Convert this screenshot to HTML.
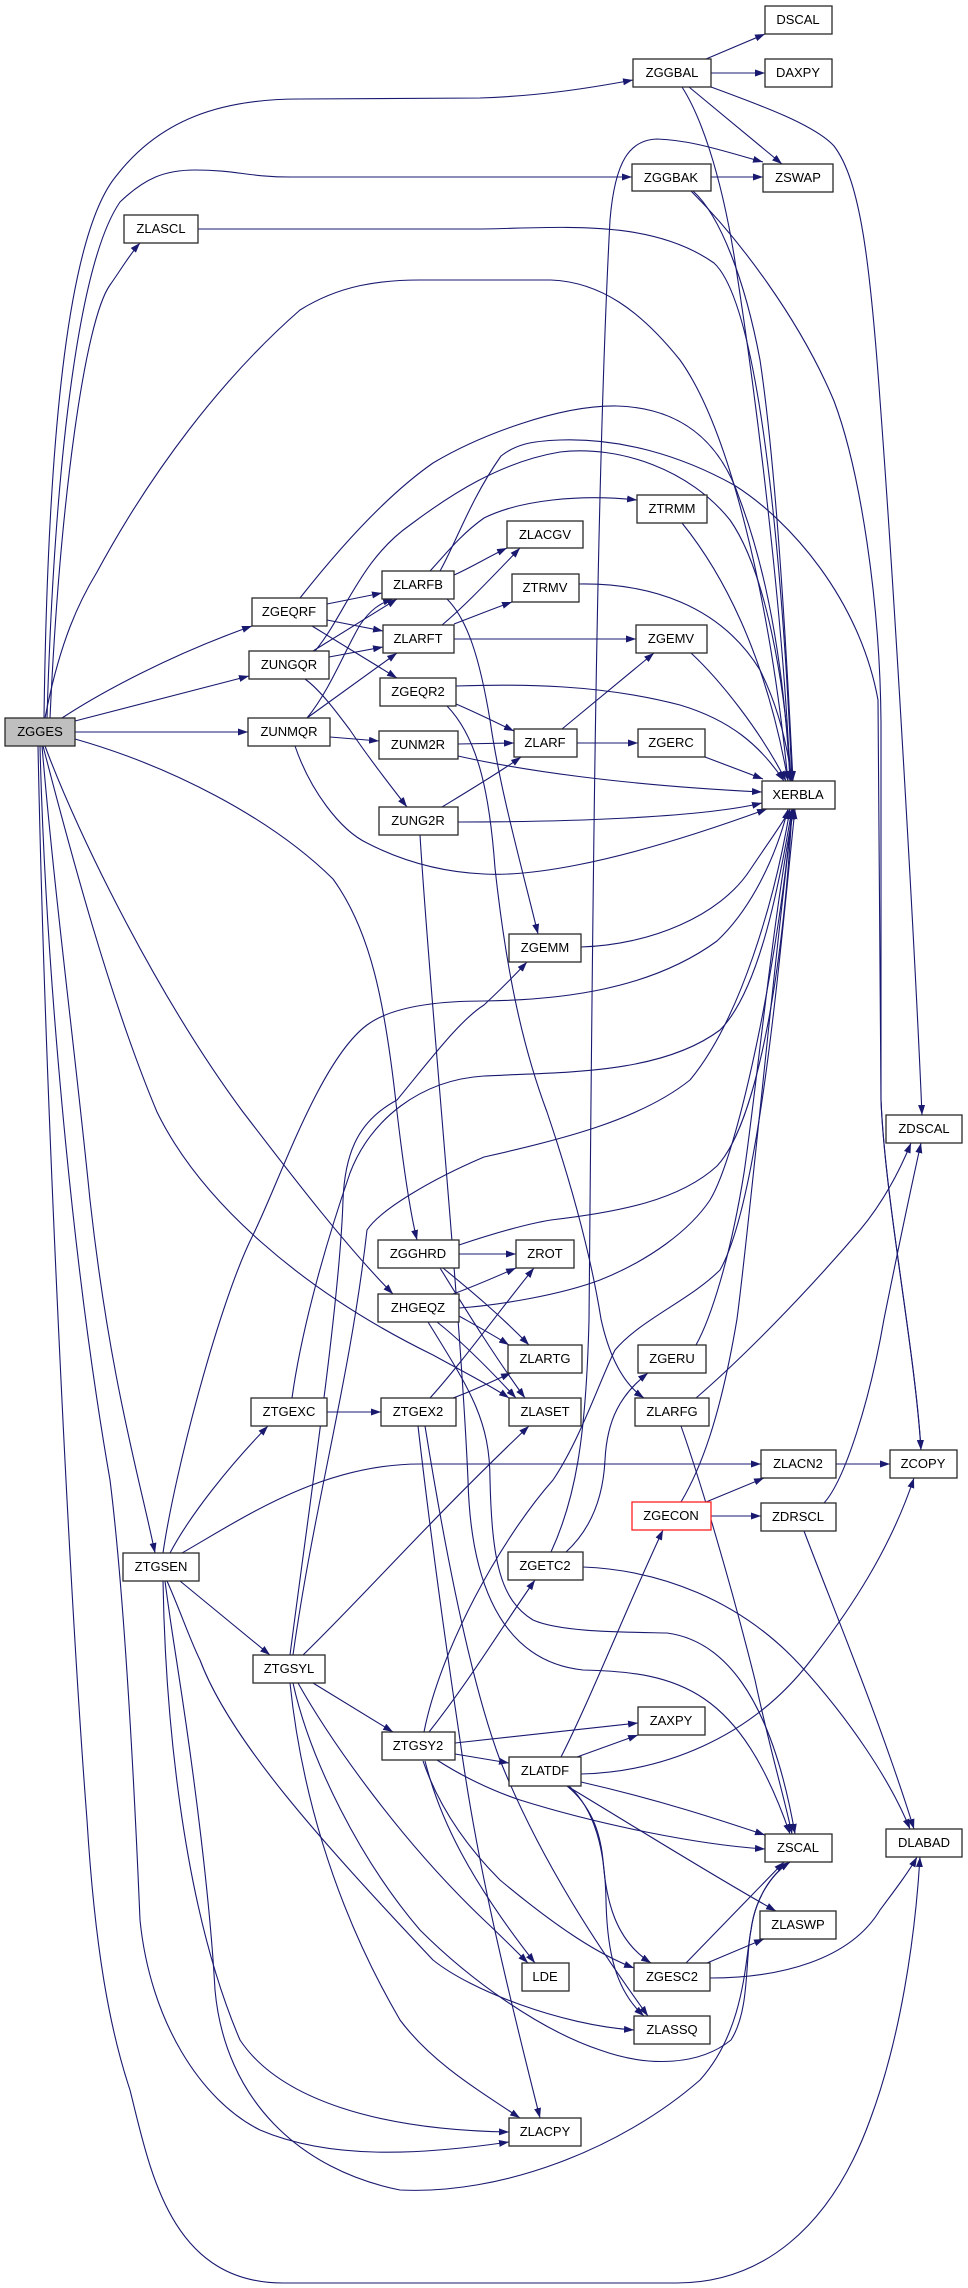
<!DOCTYPE html>
<html><head><meta charset="utf-8"><style>
html,body{margin:0;padding:0;background:#fff;}
svg{display:block;}
</style></head><body>
<svg width="968" height="2288" viewBox="0 0 968 2288" xmlns="http://www.w3.org/2000/svg">
<defs>
<marker id="a" markerWidth="10" markerHeight="8" refX="10" refY="4" orient="auto" markerUnits="userSpaceOnUse"><path d="M0,0.5 L10,4 L0,7.5z" fill="#191970"/></marker>
</defs>
<rect width="968" height="2288" fill="#fff"/>
<g fill="none" stroke="#191970" stroke-width="1.1" marker-end="url(#a)">
<path d="M44,718 C48,420 70,230 117,175 C160,120 220,99 300,99 L480,98 C540,96 590,88 633,80"/>
<path d="M47,718 C55,450 80,260 120,202 C145,178 165,170 195,170 C235,170 250,177 290,177 L632,177"/>
<path d="M50,718 C60,500 85,320 110,285 C122,268 130,254 140,243"/>
<path d="M198,229 L480,229 C560,228 650,218 714,263 C765,310 785,620 792,781"/>
<path d="M45,718 C60,640 80,600 97,572 C150,474 220,380 300,310 C340,285 380,280 420,280 L551,280 C600,282 640,310 680,360 C730,430 770,600 788,781"/>
<path d="M706,59 L765,34"/>
<path d="M711,73 L765,73"/>
<path d="M689,87 L782,164"/>
<path d="M682,87 C700,115 720,170 734,255 C760,420 785,640 790,781"/>
<path d="M711,87 C760,105 815,125 834,146 C860,180 870,260 880,400 C895,600 915,950 922,1115"/>
<path d="M711,177 L763,177"/>
<path d="M693,191 C720,215 745,280 760,360 C775,460 785,620 793,781"/>
<path d="M691,191 C740,240 800,320 834,401 C860,470 880,600 881,722 L881,1100 C885,1200 915,1350 921,1450"/>
<path d="M551,1552 C575,1500 586,1440 589,1320 C592,1000 595,500 610,220 C615,160 630,140 657,139 C690,140 720,150 763,162"/>
<path d="M62,718 C100,693 170,655 252,626"/>
<path d="M75,721 L249,676"/>
<path d="M75,732 L248,732"/>
<path d="M327,604 L382,593"/>
<path d="M327,620 L383,631"/>
<path d="M312,626 L397,678"/>
<path d="M300,598 C330,560 380,500 433,463 C480,435 560,405 617,406 C680,408 720,440 740,500 C770,580 785,680 790,781"/>
<path d="M313,651 L397,599"/>
<path d="M329,657 L383,647"/>
<path d="M305,679 C320,690 335,710 350,730 C370,760 390,785 407,807"/>
<path d="M315,651 C345,615 360,560 410,525 C450,495 500,462 560,452 C620,445 690,470 730,520 C765,570 785,680 791,781"/>
<path d="M307,718 C330,690 345,650 360,625 C370,610 380,603 393,599"/>
<path d="M307,718 L397,653"/>
<path d="M330,737 L379,741"/>
<path d="M295,746 C310,790 340,830 367,843 C400,860 440,872 484,874 C520,876 600,870 767,809"/>
<path d="M430,571 C445,555 460,535 484,518 C520,500 580,494 637,500"/>
<path d="M454,575 C470,568 490,556 507,548"/>
<path d="M442,625 C460,610 480,590 520,548"/>
<path d="M447,599 C468,620 480,660 490,720 C500,790 520,860 538,934"/>
<path d="M440,571 C455,545 470,500 501,456 C515,445 530,441 560,440 C620,438 680,455 734,485 C790,520 860,600 878,700 L881,1100 C885,1200 915,1350 921,1450"/>
<path d="M454,624 C475,616 495,608 512,602"/>
<path d="M454,639 L636,639"/>
<path d="M682,523 C720,570 765,650 788,781"/>
<path d="M579,584 C650,583 720,605 760,670 C780,710 788,750 792,781"/>
<path d="M691,653 C720,680 760,730 786,781"/>
<path d="M562,729 L654,653"/>
<path d="M577,743 L638,743"/>
<path d="M705,757 L763,779"/>
<path d="M456,704 C475,712 495,722 514,731"/>
<path d="M458,744 L514,743"/>
<path d="M442,807 C470,790 500,772 521,757"/>
<path d="M456,686 C520,684 600,684 680,705 C730,720 760,745 784,781"/>
<path d="M458,756 C520,770 620,785 762,792"/>
<path d="M458,822 C560,822 700,818 762,803"/>
<path d="M447,706 C480,740 490,800 495,868 C505,960 520,1040 547,1112 C570,1180 590,1250 601,1319 C610,1360 625,1385 644,1398"/>
<path d="M420,835 C430,1000 460,1300 468,1480 C470,1560 490,1660 583,1670 C680,1672 740,1690 790,1834"/>
<path d="M581,947 C650,945 720,916 750,870 C770,840 785,820 790,809"/>
<path d="M75,739 C170,766 270,817 333,879 C370,930 385,1000 397,1112 C405,1180 412,1220 417,1240"/>
<path d="M45,746 C80,840 160,1000 243,1112 C280,1160 340,1240 393,1294"/>
<path d="M43,746 C70,850 110,1000 157,1112 C200,1200 300,1290 433,1355 C460,1370 490,1385 509,1398"/>
<path d="M42,746 C55,900 75,1050 90,1200 C110,1380 140,1480 155,1553"/>
<path d="M40,746 C45,950 70,1250 110,1480 C125,1600 135,1800 140,1920 C150,2020 200,2100 260,2130 C330,2160 420,2155 509,2142"/>
<path d="M38,746 C45,1100 70,1600 87,1820 C95,1950 110,2030 130,2090 C150,2170 170,2283 283,2283 L677,2283 C760,2283 830,2230 870,2120 C900,2040 915,1940 920,1857"/>
<path d="M170,1553 C190,1515 230,1465 268,1426"/>
<path d="M182,1553 C240,1520 320,1464 420,1464 L761,1464"/>
<path d="M163,1553 C175,1470 220,1300 253,1235 C280,1180 320,1060 367,1025 C390,1008 430,1001 484,1001 C560,1000 650,990 717,941 C750,910 775,860 788,809"/>
<path d="M180,1581 L270,1655"/>
<path d="M167,1581 C180,1610 190,1640 200,1660 C230,1740 320,1840 433,1960 C470,1990 560,2025 634,2030"/>
<path d="M163,1581 C165,1700 180,1900 240,2040 C280,2100 380,2130 509,2132"/>
<path d="M165,1581 C170,1620 175,1650 178,1670 C195,1780 210,1900 215,1990 C225,2100 300,2170 400,2190 C500,2195 620,2150 700,2080 C745,2030 745,1960 751,1930 C755,1900 770,1875 790,1862"/>
<path d="M293,1683 C310,1760 360,1860 420,1930 C470,1980 540,2030 600,2050 C650,2068 700,2065 731,2040 C750,2010 745,1960 751,1930 C755,1900 770,1875 790,1862"/>
<path d="M313,1683 L393,1732"/>
<path d="M303,1655 C360,1600 430,1520 529,1426"/>
<path d="M290,1655 C310,1500 340,1300 343,1200 C345,1150 360,1120 397,1100 C430,1060 460,1020 484,1005 C500,990 515,975 527,962"/>
<path d="M293,1655 C315,1500 350,1380 367,1230 C380,1210 430,1180 484,1157 C560,1140 640,1120 690,1080 C740,1020 775,900 790,809"/>
<path d="M290,1683 C300,1780 330,1900 400,2020 C430,2060 470,2085 520,2118"/>
<path d="M298,1683 C330,1740 400,1840 484,1920 C500,1935 515,1950 528,1963"/>
<path d="M425,1761 C440,1820 470,1880 535,1963"/>
<path d="M327,1412 L381,1412"/>
<path d="M292,1398 C300,1340 320,1260 350,1173 C370,1120 420,1080 484,1076 C560,1072 660,1075 720,1030 C760,990 780,880 792,809"/>
<path d="M430,1398 C460,1365 500,1310 534,1268"/>
<path d="M453,1398 C475,1390 495,1380 511,1373"/>
<path d="M418,1426 C430,1530 445,1640 460,1740 C475,1850 500,1960 540,2118"/>
<path d="M425,1426 C445,1550 470,1680 500,1760 C540,1860 600,1950 648,2016"/>
<path d="M459,1254 L516,1254"/>
<path d="M443,1268 C470,1290 500,1315 529,1345"/>
<path d="M440,1268 C460,1300 490,1350 525,1398"/>
<path d="M459,1245 C480,1238 520,1225 551,1220 C620,1212 680,1200 717,1166 C760,1120 785,950 792,809"/>
<path d="M453,1294 C475,1286 500,1275 516,1268"/>
<path d="M459,1316 C475,1325 495,1336 509,1345"/>
<path d="M437,1322 C460,1340 490,1370 516,1398"/>
<path d="M428,1322 C470,1390 490,1420 490,1480 C492,1560 500,1600 533,1620 C560,1632 620,1632 667,1633 C720,1640 770,1690 795,1834"/>
<path d="M459,1308 C500,1305 560,1295 600,1280 C650,1260 690,1230 710,1200 C740,1150 780,950 792,809"/>
<path d="M706,1502 L764,1478"/>
<path d="M711,1516 L761,1516"/>
<path d="M681,1502 C700,1470 720,1420 737,1319 C750,1220 770,1000 793,809"/>
<path d="M836,1464 L890,1464"/>
<path d="M824,1503 C845,1480 870,1400 884,1319 C900,1240 915,1170 921,1143"/>
<path d="M804,1531 C830,1600 880,1720 914,1829"/>
<path d="M696,1398 C740,1360 800,1300 860,1230 C885,1200 900,1170 911,1143"/>
<path d="M681,1426 C700,1480 730,1580 755,1680 C770,1750 785,1800 792,1834"/>
<path d="M696,1345 C710,1320 730,1260 744,1173 C755,1100 775,900 794,809"/>
<path d="M566,1552 C590,1530 603,1500 605,1460 C607,1420 620,1395 648,1373"/>
<path d="M583,1567 C660,1570 740,1600 800,1665 C850,1720 890,1780 910,1829"/>
<path d="M581,1774 C660,1772 750,1740 811,1660 C850,1610 890,1550 914,1478"/>
<path d="M561,1757 C590,1700 630,1600 663,1530"/>
<path d="M577,1757 L638,1735"/>
<path d="M581,1782 C660,1800 720,1820 765,1835"/>
<path d="M567,1786 C640,1830 720,1880 776,1911"/>
<path d="M567,1786 C590,1805 600,1830 603,1860 C606,1900 615,1940 651,1963"/>
<path d="M569,1786 C595,1810 605,1850 606,1900 C607,1950 615,1990 644,2016"/>
<path d="M455,1743 L638,1723"/>
<path d="M455,1754 L509,1763"/>
<path d="M429,1732 C470,1680 500,1630 535,1580"/>
<path d="M437,1760 C460,1775 490,1790 520,1800 C600,1825 700,1845 765,1849"/>
<path d="M423,1761 C440,1810 470,1850 500,1880 C560,1930 600,1955 634,1968"/>
<path d="M424,1732 C440,1650 500,1540 553,1480 C580,1440 600,1380 615,1350 C640,1320 690,1300 720,1270 C760,1200 780,950 795,809"/>
<path d="M686,1963 L784,1862"/>
<path d="M707,1963 L764,1939"/>
<path d="M710,1978 C780,1978 850,1960 880,1910 C895,1890 910,1870 917,1857"/>
</g>
<g font-family="'Liberation Sans', Arial, sans-serif" font-size="13" text-anchor="middle" fill="#000">
<g fill="#fff" stroke="#2a2a2a" stroke-width="1.3">
<rect x="5" y="718" width="70" height="28" fill="#bfbfbf"/>
<rect x="124" y="215" width="74" height="28"/>
<rect x="633" y="59" width="78" height="28"/>
<rect x="632" y="164" width="79" height="27"/>
<rect x="765" y="6" width="67" height="28"/>
<rect x="765" y="59" width="67" height="28"/>
<rect x="763" y="164" width="70" height="28"/>
<rect x="637" y="495" width="70" height="28"/>
<rect x="507" y="521" width="76" height="27"/>
<rect x="252" y="598" width="75" height="28"/>
<rect x="249" y="651" width="80" height="28"/>
<rect x="248" y="718" width="82" height="28"/>
<rect x="382" y="571" width="72" height="28"/>
<rect x="383" y="625" width="71" height="28"/>
<rect x="380" y="678" width="76" height="28"/>
<rect x="379" y="731" width="79" height="28"/>
<rect x="379" y="807" width="79" height="28"/>
<rect x="512" y="574" width="67" height="28"/>
<rect x="636" y="625" width="71" height="28"/>
<rect x="514" y="729" width="63" height="28"/>
<rect x="638" y="729" width="67" height="28"/>
<rect x="762" y="781" width="73" height="28"/>
<rect x="509" y="934" width="72" height="28"/>
<rect x="886" y="1115" width="76" height="28"/>
<rect x="378" y="1240" width="81" height="28"/>
<rect x="378" y="1294" width="81" height="28"/>
<rect x="516" y="1240" width="58" height="28"/>
<rect x="508" y="1345" width="74" height="28"/>
<rect x="509" y="1398" width="72" height="28"/>
<rect x="638" y="1345" width="68" height="28"/>
<rect x="635" y="1398" width="74" height="28"/>
<rect x="251" y="1398" width="76" height="28"/>
<rect x="381" y="1398" width="75" height="28"/>
<rect x="761" y="1450" width="75" height="28"/>
<rect x="890" y="1450" width="67" height="28"/>
<rect x="632" y="1502" width="79" height="28" stroke="#ff2020"/>
<rect x="761" y="1503" width="75" height="28"/>
<rect x="123" y="1553" width="76" height="28"/>
<rect x="508" y="1552" width="75" height="28"/>
<rect x="253" y="1655" width="72" height="28"/>
<rect x="638" y="1707" width="67" height="28"/>
<rect x="382" y="1732" width="73" height="28"/>
<rect x="509" y="1757" width="72" height="29"/>
<rect x="765" y="1834" width="67" height="28"/>
<rect x="886" y="1829" width="76" height="28"/>
<rect x="760" y="1911" width="76" height="28"/>
<rect x="522" y="1963" width="47" height="28"/>
<rect x="634" y="1963" width="76" height="28"/>
<rect x="634" y="2016" width="76" height="28"/>
<rect x="509" y="2118" width="72" height="28"/>
</g>
<text x="40" y="736">ZGGES</text>
<text x="161" y="233">ZLASCL</text>
<text x="672" y="77">ZGGBAL</text>
<text x="671" y="182">ZGGBAK</text>
<text x="798" y="24">DSCAL</text>
<text x="798" y="77">DAXPY</text>
<text x="798" y="182">ZSWAP</text>
<text x="672" y="513">ZTRMM</text>
<text x="545" y="539">ZLACGV</text>
<text x="289" y="616">ZGEQRF</text>
<text x="289" y="669">ZUNGQR</text>
<text x="289" y="736">ZUNMQR</text>
<text x="418" y="589">ZLARFB</text>
<text x="418" y="643">ZLARFT</text>
<text x="418" y="696">ZGEQR2</text>
<text x="418" y="749">ZUNM2R</text>
<text x="418" y="825">ZUNG2R</text>
<text x="545" y="592">ZTRMV</text>
<text x="671" y="643">ZGEMV</text>
<text x="545" y="747">ZLARF</text>
<text x="671" y="747">ZGERC</text>
<text x="798" y="799">XERBLA</text>
<text x="545" y="952">ZGEMM</text>
<text x="924" y="1133">ZDSCAL</text>
<text x="418" y="1258">ZGGHRD</text>
<text x="418" y="1312">ZHGEQZ</text>
<text x="545" y="1258">ZROT</text>
<text x="545" y="1363">ZLARTG</text>
<text x="545" y="1416">ZLASET</text>
<text x="672" y="1363">ZGERU</text>
<text x="672" y="1416">ZLARFG</text>
<text x="289" y="1416">ZTGEXC</text>
<text x="418" y="1416">ZTGEX2</text>
<text x="798" y="1468">ZLACN2</text>
<text x="923" y="1468">ZCOPY</text>
<text x="671" y="1520">ZGECON</text>
<text x="798" y="1521">ZDRSCL</text>
<text x="161" y="1571">ZTGSEN</text>
<text x="545" y="1570">ZGETC2</text>
<text x="289" y="1673">ZTGSYL</text>
<text x="671" y="1725">ZAXPY</text>
<text x="418" y="1750">ZTGSY2</text>
<text x="545" y="1775">ZLATDF</text>
<text x="798" y="1852">ZSCAL</text>
<text x="924" y="1847">DLABAD</text>
<text x="798" y="1929">ZLASWP</text>
<text x="545" y="1981">LDE</text>
<text x="672" y="1981">ZGESC2</text>
<text x="672" y="2034">ZLASSQ</text>
<text x="545" y="2136">ZLACPY</text>
</g>
</svg>
</body></html>
